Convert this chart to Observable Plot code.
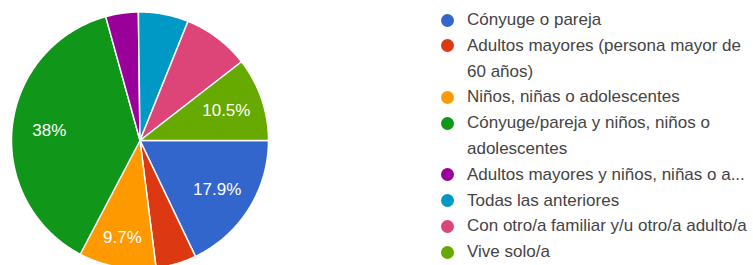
<!DOCTYPE html>
<html>
<head>
<meta charset="utf-8">
<script src="https://cdn.jsdelivr.net/npm/d3@7"></script>
<script src="https://cdn.jsdelivr.net/npm/@observablehq/plot@0.6"></script>
<style>
  html, body { margin: 0; padding: 0; background: #fff; }
  #wrap { position: relative; width: 753px; height: 265px; overflow: hidden; }
  #pie { position: absolute; left: 0; top: 0; width: 280px; height: 265px; overflow: hidden; }
  #legend { position: absolute; left: 441px; top: 7px; font-family: "Liberation Sans", Arial, sans-serif; font-size: 17px; color: #444; }
  .item { display: flex; align-items: flex-start; line-height: 25.8px; }
  .sw { width: 13px; height: 13px; border-radius: 50%; margin-top: 6.5px; margin-right: 13px; flex: none; }
  .lbl { width: 286px; }
</style>
</head>
<body>
<div id="wrap">
  <div id="pie"></div>
  <div id="legend"></div>
</div>
<script>
const categories = [
  "Cónyuge o pareja",
  "Adultos mayores (persona mayor de 60 años)",
  "Niños, niñas o adolescentes",
  "Cónyuge/pareja y niños, niños o adolescentes",
  "Adultos mayores y niños, niñas o a...",
  "Todas las anteriores",
  "Con otro/a familiar y/u otro/a adulto/a",
  "Vive solo/a"
];
const percents = [17.9, 5.1, 9.7, 38, 4.1, 6.3, 8.4, 10.5];
const labels = ["17.9%", "", "9.7%", "38%", "", "", "", "10.5%"];
const colors = ["#3366cc", "#dc3912", "#ff9900", "#109618", "#990099", "#0099c6", "#dd4477", "#66aa00"];

// build slices (angles clockwise from 3 o'clock, unit circle)
const total = d3.sum(percents);
let acc = 0;
const verts = [];
const labelPts = [];
percents.forEach((p, i) => {
  const a0 = acc / total * 2 * Math.PI;
  acc += p;
  const a1 = acc / total * 2 * Math.PI;
  verts.push({k: i, x: 0, y: 0});
  const n = Math.max(4, Math.ceil((a1 - a0) / 0.01));
  for (let j = 0; j <= n; j++) {
    const a = a0 + (a1 - a0) * j / n;
    verts.push({k: i, x: Math.cos(a), y: Math.sin(a)});
  }
  verts.push({k: i, x: 0, y: 0});
  const am = (a0 + a1) / 2;
  const rf = p < 10 ? 0.77 : 0.71;
  labelPts.push({k: i, x: rf * Math.cos(am), y: rf * Math.sin(am), t: labels[i]});
});

const chart = Plot.plot({
  width: 280,
  height: 265,
  margin: 0,
  x: {domain: [-1, 1], range: [11, 268], axis: null},
  y: {domain: [-1, 1], range: [11.5, 268.5], axis: null},
  color: {domain: d3.range(categories.length), range: colors},
  marks: [
    Plot.line(verts, {x: "x", y: "y", z: "k", fill: d => colors[d.k], stroke: "#fff", strokeWidth: 1.5, curve: "linear", strokeLinejoin: "round"}),
    Plot.text(labelPts.filter(d => d.t), {x: "x", y: "y", text: "t", fill: "#fff", fontSize: 17, fontFamily: "Liberation Sans, Arial, sans-serif"})
  ]
});
chart.style.overflow = "hidden";
document.getElementById("pie").appendChild(chart);

const leg = document.getElementById("legend");
categories.forEach((c, i) => {
  const it = document.createElement("div");
  it.className = "item";
  const sw = document.createElement("span");
  sw.className = "sw";
  sw.style.background = colors[i];
  const lb = document.createElement("span");
  lb.className = "lbl";
  lb.textContent = c;
  it.appendChild(sw);
  it.appendChild(lb);
  leg.appendChild(it);
});
</script>
</body>
</html>
